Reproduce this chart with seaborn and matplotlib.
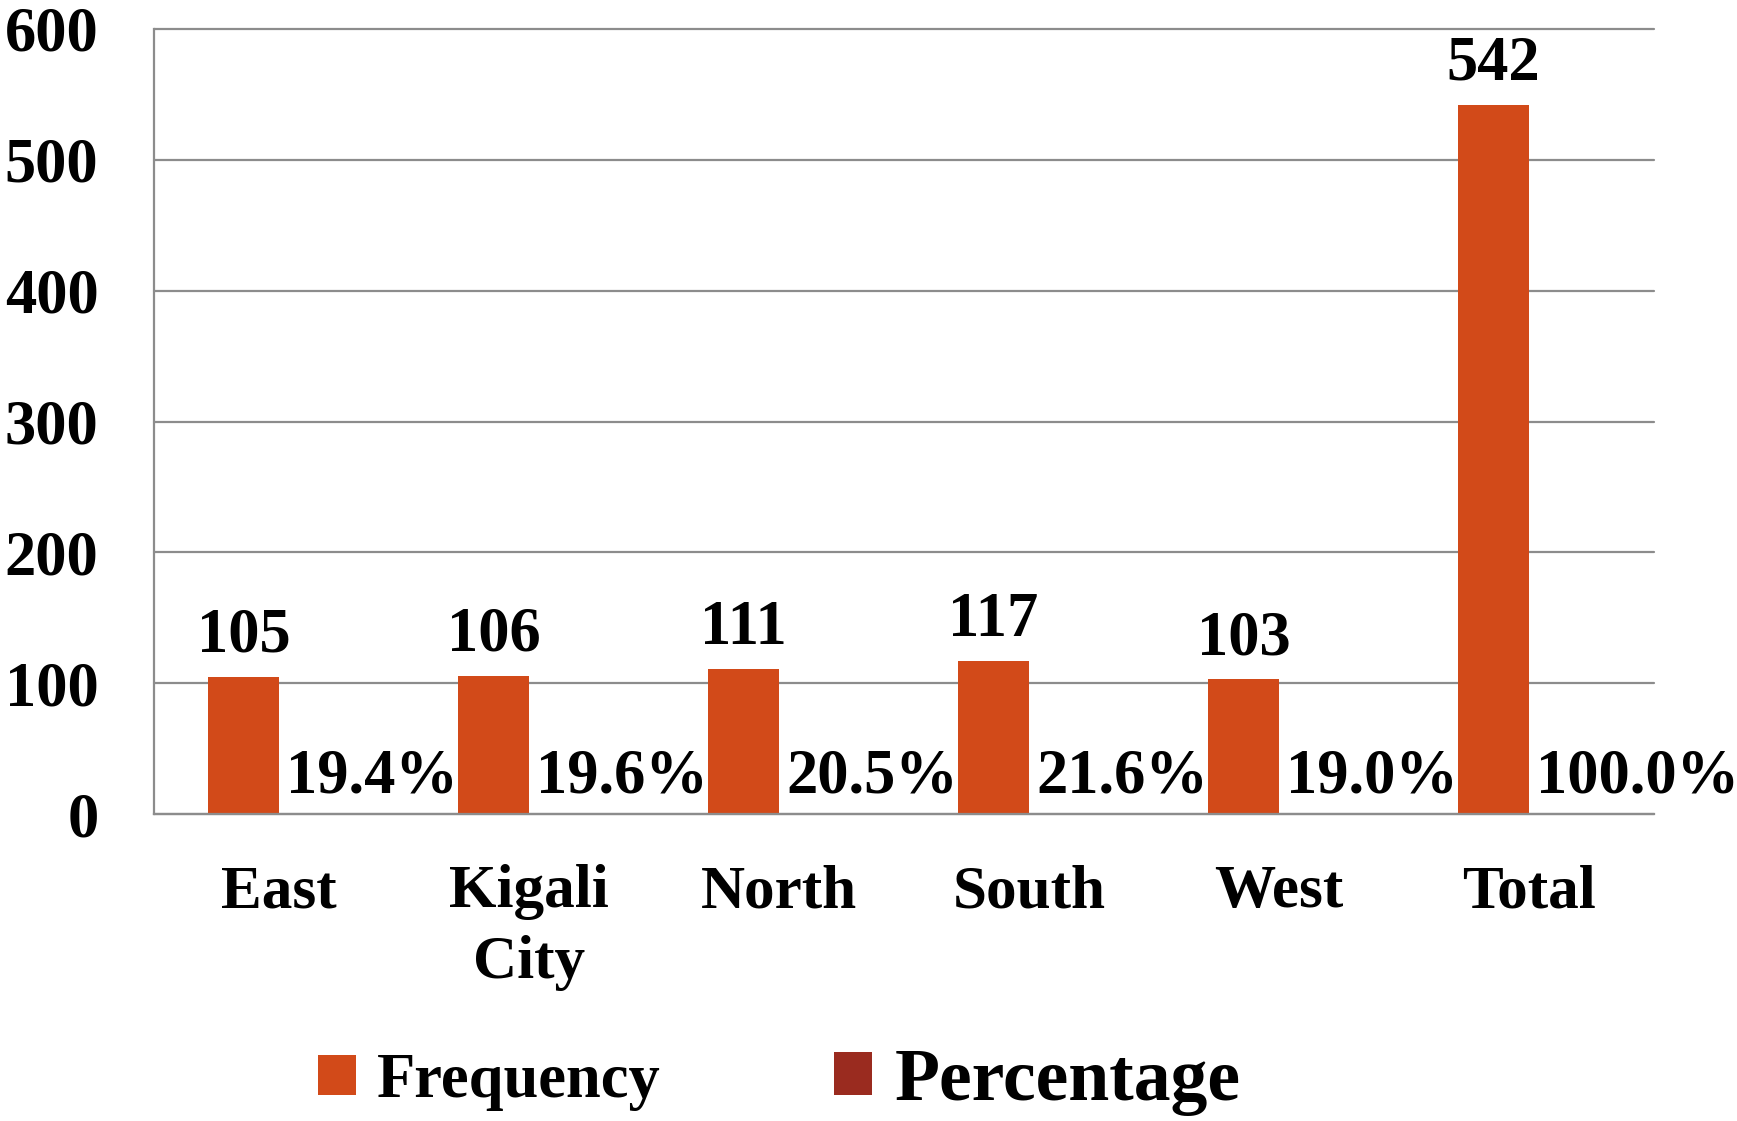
import matplotlib
matplotlib.use("Agg")
import matplotlib.pyplot as plt
import seaborn as sns
import pandas as pd
import numpy as np

# Regional distribution of respondents
regions = ["East", "Kigali\nCity", "North", "South", "West", "Total"]
frequency = [105, 106, 111, 117, 103, 542]
percentage = [19.4, 19.6, 20.5, 21.6, 19.0, 100.0]   # in percent
series_names = ["Frequency", "Percentage"]
y_ticks = [0, 100, 200, 300, 400, 500, 600]

FREQ_COLOR = "#D24A19"
PCT_COLOR = "#9A2B1F"
GRID_COLOR = "#8C8C8C"

sns.set_theme(style="white")
plt.rcParams["font.family"] = ["Liberation Serif", "DejaVu Serif"]
plt.rcParams["font.weight"] = "bold"
plt.rcParams["text.color"] = "black"
plt.rcParams["xtick.labelcolor"] = "black"
plt.rcParams["ytick.labelcolor"] = "black"

# The percentage series is stored as a fraction, so its bars sit near zero
df = pd.DataFrame({
    "Region": regions * 2,
    "Series": [series_names[0]] * len(regions) + [series_names[1]] * len(regions),
    "Value": frequency + [p / 100 for p in percentage],
})

fig = plt.figure(figsize=(17.37, 11.21), dpi=100)
ax = fig.add_axes([154 / 1737, 1 - 814.3 / 1121, 1500 / 1737, 785.5 / 1121])

sns.barplot(data=df, x="Region", y="Value", hue="Series", order=regions,
            hue_order=series_names,
            palette={series_names[0]: FREQ_COLOR, series_names[1]: PCT_COLOR},
            width=0.57, saturation=1, linewidth=0, ax=ax)

handles, labels = ax.get_legend_handles_labels()
if ax.get_legend() is not None:
    ax.get_legend().remove()

ax.set_xlim(-0.5, len(regions) - 0.5)
ax.set_ylim(0, 600)
ax.set_yticks(y_ticks)
ax.set_xlabel("")
ax.set_ylabel("")

# Gridlines and axes
ax.yaxis.grid(True, color=GRID_COLOR, linewidth=1.6)
ax.set_axisbelow(True)
for g in ax.get_ygridlines():
    g.set_clip_on(False)
for side in ["top", "right"]:
    ax.spines[side].set_visible(False)
for side in ["left", "bottom"]:
    ax.spines[side].set_color(GRID_COLOR)
    ax.spines[side].set_linewidth(1.6)

ax.tick_params(axis="y", which="major", length=14, width=1.6, color=GRID_COLOR,
               direction="out", pad=26, labelsize=45, labelcolor="black")
ax.tick_params(axis="x", which="major", length=0, pad=36, labelsize=44,
               labelcolor="black")
ax.set_xticks(np.arange(-0.5, len(regions)), minor=True)
ax.tick_params(axis="x", which="minor", length=8, width=1.6, color=GRID_COLOR,
               direction="out")
for t in ax.get_xticklabels() + ax.get_yticklabels():
    t.set_fontweight("bold")
for t in ax.get_xticklabels():
    t.set_linespacing(1.35)

# Value labels
freq_bars, pct_bars = ax.containers[0], ax.containers[1]
for bar, v in zip(freq_bars, frequency):
    ax.annotate(f"{v}", xy=(bar.get_x() + bar.get_width() / 2, bar.get_height()),
                xytext=(0, 18), textcoords="offset points", color="black",
                ha="center", va="baseline", fontsize=45, fontweight="bold")
for bar, p in zip(pct_bars, percentage):
    ax.annotate(f"{p:.1f}%", xy=(bar.get_x(), 0),
                xytext=(5, 16), textcoords="offset points", color="black",
                ha="left", va="baseline", fontsize=45, fontweight="bold")

# Legend entries placed below the plot
y_leg = 1 - 1082 / 1121
leg1 = fig.legend([handles[0]], [labels[0]], loc="center left",
                  bbox_to_anchor=(318 / 1737, y_leg), frameon=False,
                  borderpad=0, borderaxespad=0, handlelength=0.6,
                  handleheight=0.6, handletextpad=0.35, labelcolor="black",
                  prop={"size": 45, "weight": "bold"})
leg2 = fig.legend([handles[1]], [labels[1]], loc="center left",
                  bbox_to_anchor=(834 / 1737, y_leg), frameon=False,
                  borderpad=0, borderaxespad=0, handlelength=0.52,
                  handleheight=0.52, handletextpad=0.3, labelcolor="black",
                  prop={"size": 53, "weight": "bold"})

fig.savefig("out.png", dpi=100)
